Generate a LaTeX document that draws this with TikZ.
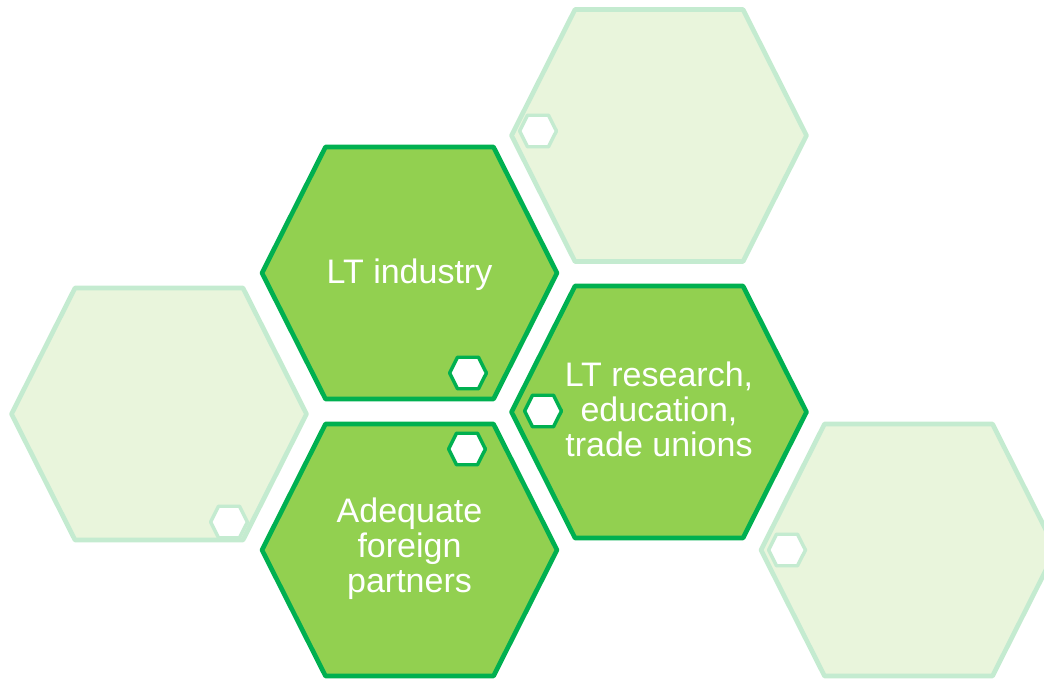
\documentclass[tikz,border=0pt]{standalone}
\usepackage{fontspec}
\setmainfont{Liberation Sans}
\definecolor{leafgreen}{HTML}{92D050}
\definecolor{darkgreen}{HTML}{00B050}
\definecolor{palefill}{HTML}{E9F5DC}
\definecolor{paleline}{HTML}{C4EBD0}
\tikzset{hexa/.pic={\path[pic actions] (-147.5,0) -- (-84,-126) -- (84,-126)
    -- (147.5,0) -- (84,126) -- (-84,126) -- cycle;}}
\begin{document}
\begin{tikzpicture}[x=0.75pt,y=-0.75pt,
                    bighex/.style = {fill = leafgreen,
                                     draw = darkgreen,
                                     line width = 3.5pt,
                                     line join = round},
                    palehex/.style = {fill = palefill,
                                      draw = paleline,
                                      line width = 3.5pt,
                                      line join = round},
                    knob/.style = {fill = white,
                                   draw = darkgreen,
                                   line width = 2.6pt,
                                   line join = round,
                                   scale = 0.125},
                    paleknob/.style = {knob, draw = paleline},
                    label/.style = {text = white,
                                    align = center,
                                    inner sep = 0pt,
                                    font = \fontsize{25.5}{26.3}\selectfont}]
	\useasboundingbox (0,0) rectangle (1044,678);
	\clip (0,0) rectangle (1044,678);
	% faded hexagons
	\foreach \cx/\cy in {659/135.5, 159/414, 908.5/550}
		\pic[palehex] at (\cx,\cy) {hexa};
	\foreach \cx/\cy in {538/131, 229/522, 787/550}
		\pic[paleknob] at (\cx,\cy) {hexa};
	% main hexagons
	\foreach \cx/\cy in {409.5/273, 409.5/550, 659/412}
		\pic[bighex] at (\cx,\cy) {hexa};
	\foreach \cx/\cy in {468/373, 467/449, 543/411}
		\pic[knob] at (\cx,\cy) {hexa};
	\node[label] (industry) at (409.5,274.5) {LT industry};
	\node[label] (research) at (659,409.5) {LT research,\\education,\\trade unions};
	\node[label] (partners) at (409.5,549) {Adequate\\foreign\\partners};
\end{tikzpicture}
\end{document}
